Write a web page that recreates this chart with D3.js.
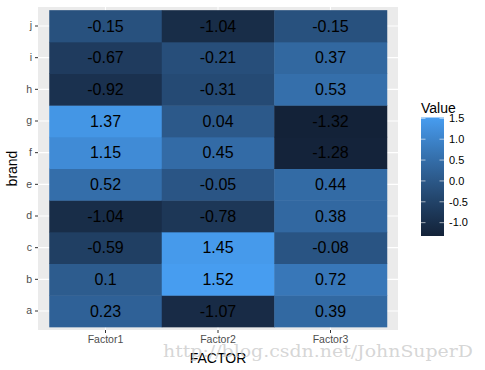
<!DOCTYPE html>
<html>
<head>
<meta charset="utf-8">
<script src="https://cdn.jsdelivr.net/npm/d3@7"></script>
<style>
  body { margin: 0; background: #fff; }
  svg { display: block; font-family: "Liberation Sans", Arial, sans-serif; }
</style>
</head>
<body>
<div id="chart"></div>
<script>
'use strict';

// data (rows bottom to top = a .. j)
const brands = ['a', 'b', 'c', 'd', 'e', 'f', 'g', 'h', 'i', 'j'];
const factors = ['Factor1', 'Factor2', 'Factor3'];
const factor1 = [0.23, 0.1, -0.59, -1.04, 0.52, 1.15, 1.37, -0.92, -0.67, -0.15];
const factor2 = [-1.07, 1.52, 1.45, -0.78, -0.05, 0.45, 0.04, -0.31, -0.21, -1.04];
const factor3 = [0.39, 0.72, -0.08, 0.38, 0.44, -1.28, -1.32, 0.53, 0.37, -0.15];
const legendTicks = [-1.0, -0.5, 0.0, 0.5, 1.0, 1.5];

const width = 485;
const height = 370;

// panel box
const panel = { left: 38, top: 7, right: 398, bottom: 330 };

const svg = d3.select('#chart')
    .append('svg')
    .attr('width', width)
    .attr('height', height);

// build long table
const cells = [];
[factor1, factor2, factor3].forEach((vals, fi) => {
    vals.forEach((v, bi) => {
        cells.push({ factor: factors[fi], brand: brands[bi], value: v });
    });
});

// discrete scales with ggplot-like expansion (0.6 units around centres)
const x = d3.scaleBand()
    .domain(factors)
    .range([panel.left, panel.right])
    .paddingOuter(0.1)
    .paddingInner(0);
const y = d3.scaleBand()
    .domain(brands)
    .range([panel.bottom, panel.top])
    .paddingOuter(0.1)
    .paddingInner(0);

const extent = d3.extent(cells, d => d.value);
const color = d3.scaleLinear()
    .domain(extent)
    .range(['#132238', '#479DF0'])
    .interpolate(d3.interpolateLab);

// panel background
svg.append('rect')
    .attr('x', panel.left)
    .attr('y', panel.top)
    .attr('width', panel.right - panel.left)
    .attr('height', panel.bottom - panel.top)
    .attr('fill', '#EBEBEB');

// grid lines
svg.append('g')
    .selectAll('line')
    .data(factors)
    .join('line')
    .attr('x1', d => x(d) + x.bandwidth() / 2)
    .attr('x2', d => x(d) + x.bandwidth() / 2)
    .attr('y1', panel.top)
    .attr('y2', panel.bottom)
    .attr('stroke', '#fff')
    .attr('stroke-width', 1.1);
svg.append('g')
    .selectAll('line')
    .data(brands)
    .join('line')
    .attr('x1', panel.left)
    .attr('x2', panel.right)
    .attr('y1', d => y(d) + y.bandwidth() / 2)
    .attr('y2', d => y(d) + y.bandwidth() / 2)
    .attr('stroke', '#fff')
    .attr('stroke-width', 1.1);

// tiles
svg.append('g')
    .selectAll('rect')
    .data(cells)
    .join('rect')
    .attr('x', d => x(d.factor))
    .attr('y', d => y(d.brand))
    .attr('width', x.bandwidth() + 0.5)
    .attr('height', y.bandwidth() + 0.5)
    .attr('fill', d => color(d.value));

// tile labels
svg.append('g')
    .selectAll('text')
    .data(cells)
    .join('text')
    .attr('x', d => x(d.factor) + x.bandwidth() / 2)
    .attr('y', d => y(d.brand) + y.bandwidth() / 2)
    .attr('dy', '0.36em')
    .attr('text-anchor', 'middle')
    .attr('font-size', 16)
    .attr('fill', '#000')
    .text(d => d.value);

// axes
const xAxis = svg.append('g')
    .attr('transform', `translate(0,${panel.bottom})`)
    .call(d3.axisBottom(x).tickSize(3).tickPadding(3));
const yAxis = svg.append('g')
    .attr('transform', `translate(${panel.left},0)`)
    .call(d3.axisLeft(y).tickSize(3).tickPadding(3));
[xAxis, yAxis].forEach(a => {
    a.select('.domain').remove();
    a.selectAll('line').attr('stroke', '#333');
    a.selectAll('text')
        .attr('fill', '#4D4D4D')
        .attr('font-size', 10.5)
        .attr('font-family', '"Liberation Sans", Arial, sans-serif');
});

// axis titles
svg.append('text')
    .attr('x', (panel.left + panel.right) / 2)
    .attr('y', 363)
    .attr('text-anchor', 'middle')
    .attr('font-size', 14)
    .text('FACTOR');
svg.append('text')
    .attr('transform', `translate(17,${(panel.top + panel.bottom) / 2}) rotate(-90)`)
    .attr('text-anchor', 'middle')
    .attr('font-size', 14)
    .text('brand');

// legend colourbar
const bar = { x: 421, w: 23, top: 117.5, bottom: 236 };
const legendScale = d3.scaleLinear()
    .domain(extent)
    .range([bar.bottom, bar.top]);

const defs = svg.append('defs');
const grad = defs.append('linearGradient')
    .attr('id', 'valueGrad')
    .attr('x1', 0).attr('x2', 0)
    .attr('y1', 1).attr('y2', 0);
d3.range(0, 1.0001, 0.1).forEach(t => {
    grad.append('stop')
        .attr('offset', t)
        .attr('stop-color', color(extent[0] + t * (extent[1] - extent[0])));
});

svg.append('rect')
    .attr('x', bar.x)
    .attr('y', bar.top)
    .attr('width', bar.w)
    .attr('height', bar.bottom - bar.top)
    .attr('fill', 'url(#valueGrad)');

const legendG = svg.append('g');
legendTicks.forEach(t => {
    const ty = legendScale(t);
    legendG.append('line')
        .attr('x1', bar.x).attr('x2', bar.x + 4.5)
        .attr('y1', ty).attr('y2', ty)
        .attr('stroke', '#fff').attr('stroke-opacity', 0.6);
    legendG.append('line')
        .attr('x1', bar.x + bar.w - 4.5).attr('x2', bar.x + bar.w)
        .attr('y1', ty).attr('y2', ty)
        .attr('stroke', '#fff').attr('stroke-opacity', 0.6);
    legendG.append('text')
        .attr('x', bar.x + bar.w + 5)
        .attr('y', ty)
        .attr('dy', '0.35em')
        .attr('font-size', 11)
        .attr('fill', '#000')
        .text(t.toFixed(1)); // plain hyphen minus like R
});

svg.append('text')
    .attr('x', 421)
    .attr('y', 113)
    .attr('font-size', 14)
    .text('Value');

// watermark
svg.append('text')
    .attr('x', 163)
    .attr('y', 357)
    .attr('font-family', '"DejaVu Serif", "Liberation Serif", serif')
    .attr('font-size', 17)
    .attr('textLength', 310)
    .attr('lengthAdjust', 'spacingAndGlyphs')
    .attr('fill', '#c4c4c4')
    .attr('fill-opacity', 0.7)
    .text('http://blog.csdn.net/JohnSuperD');
</script>
</body>
</html>
